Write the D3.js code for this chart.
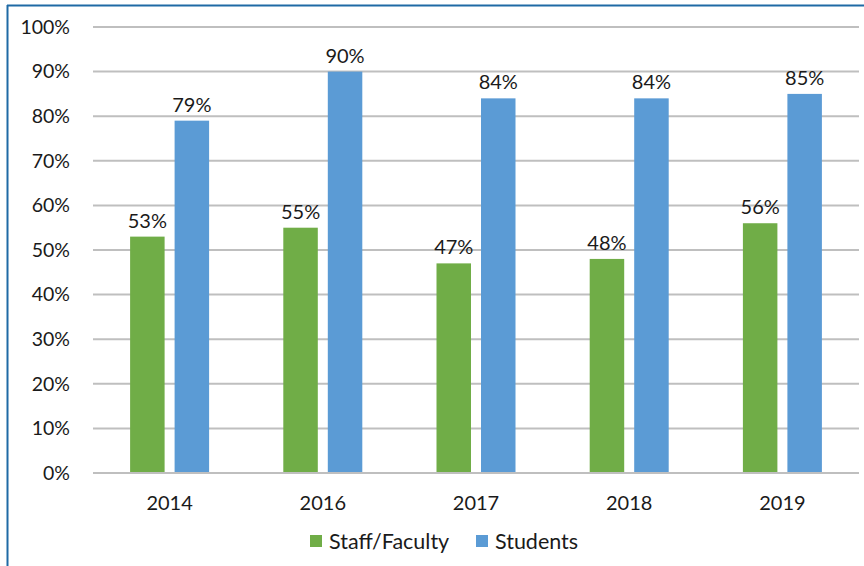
<!DOCTYPE html>
<html>
<head>
<meta charset="utf-8">
<script src="https://cdn.jsdelivr.net/npm/d3@7"></script>
<style>
  body { margin: 0; background: #fff; }
  svg text { font-family: Lato, "Liberation Sans", sans-serif; fill: #1a1a1a; }
</style>
</head>
<body>
<div id="chart"></div>
<script>
const years = ['2014', '2016', '2017', '2018', '2019'];
const staffFaculty = [53, 55, 47, 48, 56];
const students = [79, 90, 84, 84, 85];
const seriesNames = ['Staff/Faculty', 'Students'];
const seriesColors = ['#70ad47', '#5b9bd5'];
const yTicks = [0, 10, 20, 30, 40, 50, 60, 70, 80, 90, 100];

const width = 864, height = 566;
const margin = { left: 93, right: 5, top: 27, bottom: 93 };

const svg = d3.select('#chart').append('svg')
  .attr('width', width)
  .attr('height', height);

// frame lines (left and top)
svg.append('line').attr('x1', 7.5).attr('x2', 7.5).attr('y1', 5).attr('y2', height)
  .attr('stroke', '#1f6aa5').attr('stroke-width', 2);
svg.append('line').attr('x1', 7).attr('x2', width).attr('y1', 5.5).attr('y2', 5.5)
  .attr('stroke', '#1f6aa5').attr('stroke-width', 2);

const x = d3.scaleBand()
  .domain(years)
  .range([margin.left, width - margin.right]);

const y = d3.scaleLinear()
  .domain([0, 100])
  .range([height - margin.bottom, margin.top]);

const barW = 34.5, gap = 10;

// gridlines
svg.append('g')
  .selectAll('line')
  .data(yTicks)
  .enter().append('line')
  .attr('x1', margin.left)
  .attr('x2', width - margin.right)
  .attr('y1', d => y(d))
  .attr('y2', d => y(d))
  .attr('stroke', '#bfbfbf')
  .attr('stroke-width', 2);

// y axis labels
const yAxis = d3.axisLeft(y).tickValues(yTicks).tickFormat(d => d + '%').tickSize(0).tickPadding(23);
const yg = svg.append('g').attr('transform', `translate(${margin.left},0)`).call(yAxis);
yg.select('.domain').remove();
yg.selectAll('text').attr('font-size', 19.5).style('font-family', 'Lato, "Liberation Sans", sans-serif');

// x axis labels
const xAxis = d3.axisBottom(x).tickSize(0);
const xg = svg.append('g').attr('transform', `translate(0,${height - margin.bottom})`).call(xAxis);
xg.select('.domain').remove();
xg.selectAll('text').attr('y', 37).attr('dy', 0).attr('font-size', 20)
  .style('font-family', 'Lato, "Liberation Sans", sans-serif');

const data = years.map((yr, i) => ({
  year: yr,
  values: [
    { name: seriesNames[0], value: staffFaculty[i], color: seriesColors[0] },
    { name: seriesNames[1], value: students[i], color: seriesColors[1] }
  ]
}));

const groups = svg.append('g')
  .selectAll('g')
  .data(data)
  .enter().append('g')
  .attr('transform', d => `translate(${x(d.year) + (x.bandwidth() - (2 * barW + gap)) / 2},0)`);

groups.selectAll('rect')
  .data(d => d.values)
  .enter().append('rect')
  .attr('x', (d, i) => i * (barW + gap))
  .attr('width', barW)
  .attr('y', d => y(d.value))
  .attr('height', d => y(0) - y(d.value) - 1)
  .attr('fill', d => d.color);

groups.selectAll('text.lbl')
  .data(d => d.values)
  .enter().append('text')
  .attr('class', 'lbl')
  .attr('x', (d, i) => i * (barW + gap) + barW / 2)
  .attr('y', d => y(d.value) - 9)
  .attr('text-anchor', 'middle')
  .attr('font-size', 20)
  .text(d => d.value + '%');

// legend
const legend = svg.append('g').attr('transform', 'translate(310,541)');
const legendX = [0, 166];
seriesNames.forEach((name, i) => {
  const g = legend.append('g').attr('transform', `translate(${legendX[i]},0)`);
  g.append('rect').attr('x', 0).attr('y', -6).attr('width', 12).attr('height', 12).attr('fill', seriesColors[i]);
  g.append('text').attr('x', 19).attr('y', 0).attr('dy', '0.35em').attr('font-size', 21.5).text(name);
});
</script>
</body>
</html>
